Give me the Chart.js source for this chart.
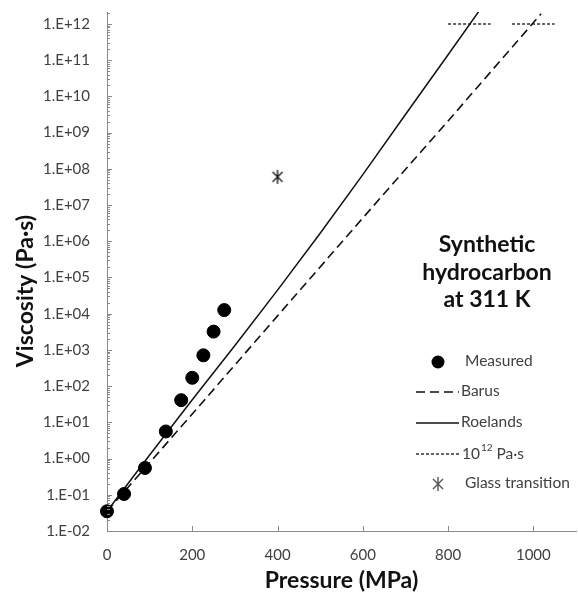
<!DOCTYPE html>
<html>
<head>
<meta charset="utf-8">
<script src="https://cdn.jsdelivr.net/npm/chart.js@4.4.1/dist/chart.umd.min.js"></script>
<style>
  html, body { margin: 0; padding: 0; background: #fff; }
  #wrap { width: 578px; height: 592px; }
</style>
</head>
<body>
<div id="wrap"><canvas id="viscosityChart" width="578" height="592"></canvas></div>
<script>
// values
const measuredPressure = [0, 40, 89, 138, 174, 200, 226, 250, 275];
const measuredViscosity = [0.035, 0.105, 0.55, 5.6, 41, 170, 710, 3200, 12600];

const roelandsPressure = [0, 100, 200, 300, 400, 500, 600, 700, 800, 874];
const roelandsViscosity = [0.035, 1.26, 42, 1.32e3, 4.47e4, 1.66e6, 6.9e7, 3.16e9, 1.41e11, 2.4e12];

const barusPressure = [0, 200, 400, 600, 800, 1018];
const barusViscosity = [0.035, 17, 8.7e3, 4.4e6, 2.1e9, 1.9e12];

const glassLimitPressureA = [800, 900];
const glassLimitPressureB = [950, 1050];
const glassLimitViscosity = 1e12;

const glassTransitionPressure = [400];
const glassTransitionViscosity = [6e7];

const xTickValues = [0, 200, 400, 600, 800, 1000];
const yTickValues = [1e-2, 1e-1, 1e0, 1e1, 1e2, 1e3, 1e4, 1e5, 1e6, 1e7, 1e8, 1e9, 1e10, 1e11, 1e12];
const yTickLabels = ["1.E-02", "1.E-01", "1.E+00", "1.E+01", "1.E+02", "1.E+03", "1.E+04", "1.E+05",
                     "1.E+06", "1.E+07", "1.E+08", "1.E+09", "1.E+10", "1.E+11", "1.E+12"];

const FONT = 'Lato, "Open Sans", sans-serif';
const AXIS_COLOR = "#8a8a8a";
const TEXT_GREY = "#404040";

function toPoints(xs, ys) {
    return xs.map((x, i) => ({ x: x, y: Array.isArray(ys) ? ys[i] : ys }));
}

// asterisk-like marker: an X with a vertical stroke
function makeStarMarker(color) {
    const c = document.createElement("canvas");
    c.width = 14; c.height = 16;
    const g = c.getContext("2d");
    g.strokeStyle = color;
    g.lineWidth = 1.4;
    g.beginPath();
    g.moveTo(2, 3); g.lineTo(12, 13);
    g.moveTo(12, 3); g.lineTo(2, 13);
    g.moveTo(7, 1); g.lineTo(7, 15);
    g.stroke();
    return c;
}
const starMarker = makeStarMarker("#1a1a1a");
const starMarkerLegend = makeStarMarker("#555");

const decorPlugin = {
    id: "decor",
    afterDraw(chart) {
        const ctx = chart.ctx;
        const xs = chart.scales.x;
        const ys = chart.scales.y;
        const area = chart.chartArea;
        ctx.save();

        // tick marks pointing into the plot
        ctx.strokeStyle = AXIS_COLOR;
        ctx.lineWidth = 1;
        ctx.beginPath();
        yTickValues.forEach((v, i) => {
            const py = Math.round(ys.getPixelForValue(v)) + 0.5;
            ctx.moveTo(area.left, py); ctx.lineTo(area.left + 5, py);
            for (let k = 2; k <= 9; k++) {
                const val = v * k;
                if (val > ys.max) break;
                const my = Math.round(ys.getPixelForValue(val)) + 0.5;
                ctx.moveTo(area.left, my); ctx.lineTo(area.left + 3, my);
            }
        });
        xTickValues.forEach(v => {
            const px = Math.round(xs.getPixelForValue(v)) + 0.5;
            ctx.moveTo(px, area.bottom); ctx.lineTo(px, area.bottom - 5);
        });
        ctx.stroke();

        // axis titles
        ctx.fillStyle = "#111";
        ctx.font = "bold 23px " + FONT;
        ctx.textAlign = "center";
        ctx.textBaseline = "alphabetic";
        ctx.fillText("Pressure (MPa)", (area.left + area.right) / 2, 588);
        ctx.save();
        ctx.translate(33, 291);
        ctx.rotate(-Math.PI / 2);
        ctx.fillText("Viscosity (Pa\u00b7s)", 0, 0);
        ctx.restore();

        // annotation
        ctx.font = "bold 23px " + FONT;
        ctx.fillText("Synthetic", 487, 252);
        ctx.fillText("hydrocarbon", 487, 280);
        ctx.fillText("at 311 K", 487, 307);

        // legend
        const ds = chart.data.datasets;
        ctx.font = "15.5px " + FONT;
        ctx.textAlign = "left";
        ctx.textBaseline = "middle";

        ctx.fillStyle = "#000";
        ctx.beginPath();
        ctx.arc(438, 362, ds[0].pointRadius, 0, Math.PI * 2);
        ctx.fill();
        ctx.fillStyle = TEXT_GREY;
        ctx.fillText(ds[0].label, 465, 361);

        const sample = (d, y) => {
            ctx.save();
            ctx.strokeStyle = d.borderColor;
            ctx.lineWidth = d.borderWidth;
            ctx.setLineDash(d.borderDash || []);
            ctx.beginPath();
            ctx.moveTo(416, y); ctx.lineTo(459, y);
            ctx.stroke();
            ctx.restore();
        };
        sample(ds[1], 392);
        ctx.fillText(ds[1].label, 461, 391);
        sample(ds[2], 423);
        ctx.fillText(ds[2].label, 461, 422);
        sample(ds[3], 454);
        let tx = 462;
        ctx.fillText("10", tx, 454);
        tx += ctx.measureText("10").width + 1;
        ctx.font = "10px " + FONT;
        ctx.fillText("12", tx, 448);
        tx += ctx.measureText("12").width;
        ctx.font = "15.5px " + FONT;
        ctx.fillText(" Pa\u00b7s", tx, 454);

        ctx.drawImage(starMarkerLegend, 438 - 7, 484 - 8);
        ctx.fillText(ds[5].label, 465, 483);

        ctx.restore();
    }
};

document.addEventListener("DOMContentLoaded", function () {
    const canvas = document.getElementById("viscosityChart");
    const ctx = canvas.getContext("2d");

    new Chart(ctx, {
        type: "scatter",
        data: {
            datasets: [
                {
                    label: "Measured",
                    data: toPoints(measuredPressure, measuredViscosity),
                    pointRadius: 6.5,
                    pointBackgroundColor: "#000",
                    pointBorderColor: "#000",
                    showLine: false,
                    clip: false,
                    order: 0
                },
                {
                    label: "Barus",
                    data: toPoints(barusPressure, barusViscosity),
                    showLine: true,
                    borderColor: "#111",
                    borderWidth: 1.6,
                    borderDash: [9, 5],
                    pointRadius: 0,
                    order: 2
                },
                {
                    label: "Roelands",
                    data: toPoints(roelandsPressure, roelandsViscosity),
                    showLine: true,
                    borderColor: "#111",
                    borderWidth: 1.5,
                    tension: 0,
                    pointRadius: 0,
                    order: 2
                },
                {
                    label: "10\u00b9\u00b2 Pa\u00b7s",
                    data: toPoints(glassLimitPressureA, glassLimitViscosity),
                    showLine: true,
                    borderColor: "#333",
                    borderWidth: 1.5,
                    borderDash: [3, 2],
                    pointRadius: 0,
                    order: 3
                },
                {
                    label: "10\u00b9\u00b2 Pa\u00b7s (2)",
                    data: toPoints(glassLimitPressureB, glassLimitViscosity),
                    showLine: true,
                    borderColor: "#333",
                    borderWidth: 1.5,
                    borderDash: [3, 2],
                    pointRadius: 0,
                    order: 3
                },
                {
                    label: "Glass transition",
                    data: toPoints(glassTransitionPressure, glassTransitionViscosity),
                    showLine: false,
                    pointStyle: starMarker,
                    order: 1
                }
            ]
        },
        options: {
            responsive: false,
            animation: false,
            events: [],
            layout: { padding: { left: 0, right: 2, top: 12, bottom: 0 }, autoPadding: false },
            plugins: {
                legend: { display: false },
                tooltip: { enabled: false }
            },
            scales: {
                x: {
                    type: "linear",
                    min: 0,
                    max: 1100,
                    afterBuildTicks: scale => { scale.ticks = xTickValues.map(v => ({ value: v })); },
                    afterFit: scale => {
                        scale.height = 61;
                        scale.paddingLeft = 0;
                        scale.paddingRight = 0;
                    },
                    grid: { display: false, drawTicks: false },
                    border: { display: true, color: AXIS_COLOR, width: 1 },
                    ticks: {
                        autoSkip: false,
                        maxRotation: 0,
                        padding: 15,
                        color: TEXT_GREY,
                        font: { family: FONT, size: 15 },
                        callback: value => String(value)
                    }
                },
                y: {
                    type: "logarithmic",
                    min: 1e-2,
                    max: 2.14e12,
                    afterBuildTicks: scale => { scale.ticks = yTickValues.map(v => ({ value: v })); },
                    afterFit: scale => {
                        scale.width = 107;
                        scale.paddingTop = 0;
                        scale.paddingBottom = 0;
                    },
                    grid: { display: false, drawTicks: false },
                    border: { display: true, color: AXIS_COLOR, width: 1 },
                    ticks: {
                        autoSkip: false,
                        padding: 17,
                        color: TEXT_GREY,
                        font: { family: FONT, size: 15 },
                        callback: (value, index) => yTickLabels[index]
                    }
                }
            }
        },
        plugins: [decorPlugin]
    });
});
</script>
</body>
</html>
